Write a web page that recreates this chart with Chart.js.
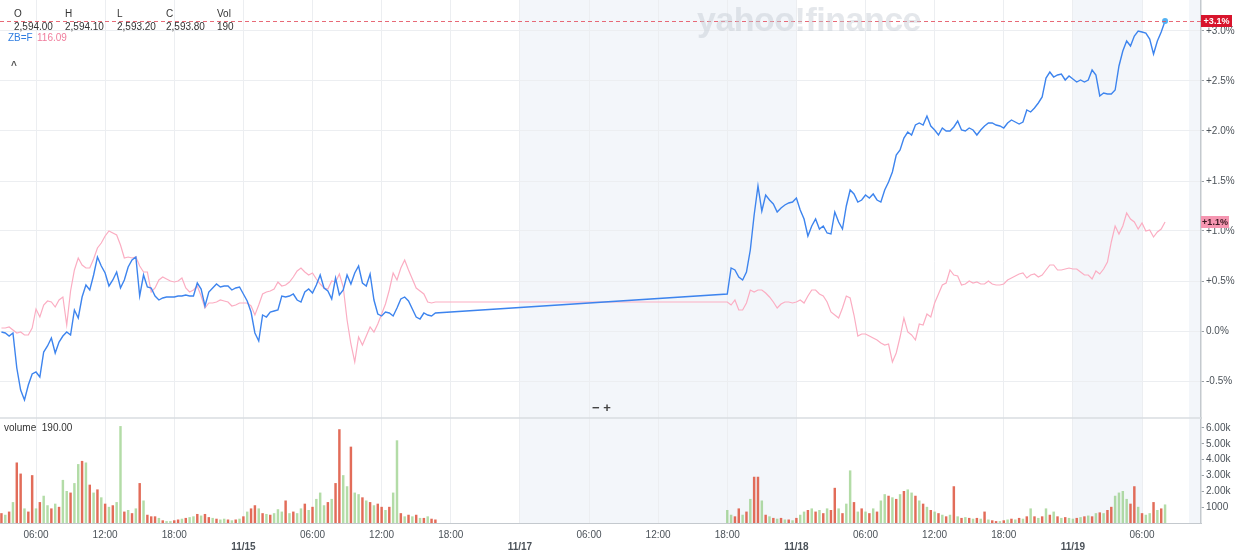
<!DOCTYPE html>
<html>
<head>
<meta charset="utf-8">
<script src="https://cdn.jsdelivr.net/npm/chart.js@4.4.0/dist/chart.umd.min.js"></script>
<style>
  html, body { margin: 0; padding: 0; background: #fff; }
  #wrap { position: relative; width: 1236px; height: 551px; font-family: "Liberation Sans", Arial, sans-serif; overflow: hidden; }
  #chart { position: absolute; left: 0; top: 0; }
  .t { position: absolute; font-size: 10px; line-height: 12px; color: #333; white-space: nowrap; }
  .wm { position: absolute; left: 697px; top: 0; font-size: 34px; line-height: 38px; font-weight: bold; color: rgba(196,202,210,0.45); letter-spacing: -0.5px; pointer-events: none; }
</style>
</head>
<body>
<div id="wrap">
  <canvas id="chart" width="1236" height="551"></canvas>
  <div class="wm">yahoo!finance</div>
  <div class="t" style="left:14px;top:8px">O</div>
  <div class="t" style="left:65px;top:8px">H</div>
  <div class="t" style="left:117px;top:8px">L</div>
  <div class="t" style="left:166px;top:8px">C</div>
  <div class="t" style="left:217px;top:8px">Vol</div>
  <div class="t" style="left:14px;top:21px">2,594.00</div>
  <div class="t" style="left:65px;top:21px">2,594.10</div>
  <div class="t" style="left:117px;top:21px">2,593.20</div>
  <div class="t" style="left:166px;top:21px">2,593.80</div>
  <div class="t" style="left:217px;top:21px">190</div>
  <div class="t" style="left:8px;top:32px;color:#2f7de1">ZB=F</div>
  <div class="t" style="left:37px;top:32px;color:#f07c9c">116.09</div>
  <div class="t" style="left:11px;top:60px;font-weight:bold;color:#555">^</div>
  <div class="t" style="left:4px;top:422px">volume&nbsp; 190.00</div>
  <div class="t" style="left:592px;top:402px;font-size:13px;font-weight:bold;color:#444">&minus; +</div>
</div>
<script>
// time axis: hours since 11/14 00:00, weekend removed (11/15 24:00 -> 11/17 00:00 = 48)
const axisStartHour = 2.875;
const axisEndHour = 107.12;
const tickHours = [6, 12, 18, 24, 30, 36, 42, 48, 54, 60, 66, 72, 78, 84, 90, 96, 102];
const tickLabels = ['06:00', '12:00', '18:00', '11/15', '06:00', '12:00', '18:00', '11/17',
  '06:00', '12:00', '18:00', '11/18', '06:00', '12:00', '18:00', '11/19', '06:00'];
const shadedBands = [[48, 72], [96, 102], [106.08, 107.12]];

const sessionStartA = 3;    // 11/14 03:00
const sessionStartB = 66;   // 11/17 18:00
const stepHours = 1 / 3;    // 20 minute samples

// ES=F, % change
const esA = [-0.01,-0.02,-0.05,-0.02,-0.37,-0.59,-0.69,-0.54,-0.43,-0.41,
  -0.46,-0.21,-0.15,-0.07,-0.22,-0.11,-0.05,-0.01,-0.04,0.21,
  0.13,0.34,0.46,0.41,0.56,0.74,0.65,0.58,0.45,0.51,
  0.59,0.43,0.51,0.64,0.71,0.74,0.35,0.56,0.44,0.43,
  0.35,0.31,0.33,0.34,0.34,0.34,0.35,0.35,0.36,0.35,
  0.35,0.48,0.42,0.25,0.39,0.43,0.47,0.44,0.45,0.45,
  0.41,0.43,0.44,0.37,0.30,0.19,-0.02,-0.10,0.16,0.14,
  0.19,0.20,0.21,0.35,0.34,0.35,0.37,0.31,0.29,0.39,
  0.42,0.38,0.46,0.56,0.43,0.40,0.32,0.53,0.36,0.41,
  0.56,0.47,0.58,0.65,0.48,0.45,0.57,0.31,0.17,0.15,
  0.19,0.18,0.15,0.23,0.32,0.34,0.30,0.22,0.14,0.12,
  0.18,0.16,0.15,0.18];
const esB = [0.37,0.63,0.61,0.54,0.51,0.59,0.81,1.16,1.45,1.20,
  1.36,1.31,1.27,1.19,1.23,1.26,1.28,1.29,1.33,1.21,
  1.12,0.95,1.05,1.12,1.02,1.05,0.98,0.97,1.19,1.09,
  1.02,1.25,1.41,1.37,1.29,1.31,1.36,1.33,1.37,1.31,
  1.29,1.41,1.49,1.59,1.76,1.81,1.93,1.99,1.96,2.06,
  2.08,2.06,2.15,2.05,2.01,1.96,2.03,2.00,2.00,2.04,
  2.10,2.01,2.00,2.03,2.01,1.96,2.01,2.05,2.08,2.08,
  2.06,2.05,2.03,2.08,2.11,2.09,2.07,2.09,2.21,2.19,
  2.23,2.28,2.34,2.53,2.59,2.54,2.56,2.57,2.51,2.55,
  2.52,2.49,2.51,2.49,2.51,2.61,2.56,2.35,2.38,2.37,
  2.37,2.41,2.65,2.80,2.90,2.85,2.95,3.00,2.99,2.98,
  2.92,2.77,2.90,2.99,3.10];

// ZB=F, % change
const zbA = [0.03,0.03,0.04,0.01,-0.02,-0.01,-0.04,-0.04,0.03,0.22,
  0.14,0.26,0.30,0.29,0.24,0.31,0.34,0.06,0.40,0.61,
  0.73,0.66,0.63,0.63,0.72,0.83,0.88,0.95,1.00,0.98,
  0.96,0.86,0.73,0.74,0.73,0.74,0.65,0.59,0.59,0.39,
  0.43,0.51,0.54,0.52,0.50,0.49,0.50,0.53,0.43,0.39,
  0.41,0.45,0.35,0.23,0.28,0.28,0.29,0.31,0.30,0.29,
  0.25,0.26,0.28,0.28,0.28,0.25,0.16,0.26,0.37,0.39,
  0.40,0.42,0.49,0.45,0.46,0.49,0.54,0.60,0.63,0.59,
  0.56,0.58,0.52,0.47,0.43,0.42,0.50,0.49,0.57,0.44,
  0.11,-0.13,-0.31,-0.06,-0.14,-0.05,0.04,-0.01,0.07,0.17,
  0.27,0.41,0.58,0.51,0.63,0.71,0.61,0.52,0.43,0.40,
  0.37,0.29,0.28,0.29];
const zbB = [0.29,0.26,0.31,0.21,0.21,0.28,0.41,0.39,0.41,0.41,
  0.38,0.34,0.29,0.23,0.27,0.29,0.29,0.28,0.29,0.31,
  0.28,0.35,0.41,0.41,0.37,0.35,0.29,0.19,0.16,0.13,
  0.23,0.35,0.33,0.16,-0.05,-0.03,-0.03,-0.05,-0.07,-0.09,
  -0.12,-0.14,-0.13,-0.31,-0.22,-0.06,0.13,-0.01,-0.04,-0.09,
  0.07,0.06,0.17,0.14,0.28,0.37,0.46,0.48,0.61,0.56,
  0.55,0.46,0.47,0.50,0.48,0.49,0.47,0.47,0.50,0.47,
  0.46,0.46,0.47,0.51,0.53,0.55,0.57,0.58,0.53,0.56,
  0.57,0.54,0.56,0.61,0.66,0.66,0.61,0.61,0.62,0.63,
  0.62,0.62,0.59,0.56,0.56,0.52,0.60,0.57,0.62,0.69,
  0.89,1.05,0.97,1.05,1.18,1.12,1.09,1.02,1.08,1.00,
  1.01,0.94,0.99,1.02,1.09];

// volume and bar colour (r = down, g = up)
const volA = [600,500,700,1300,3800,3100,900,700,3000,900,
  1300,1700,1100,900,1200,1000,2700,2000,1900,2500,
  3700,3900,3800,2400,1900,2100,1600,1200,1000,1100,
  1300,6100,700,800,600,900,2500,1400,500,400,
  400,300,150,100,100,150,200,250,300,350,
  400,550,450,550,350,300,250,200,250,200,
  150,200,250,400,700,900,1100,900,600,550,
  500,600,850,700,1400,600,700,600,900,1200,
  800,1000,1500,1900,1100,1300,1500,2500,5900,3000,
  2300,4800,1900,1800,1600,1400,1300,1100,1200,1000,
  800,1000,1900,5200,600,400,500,400,500,300,
  300,400,250,200];
const volB = [800,500,400,900,500,700,1500,2900,2900,1400,
  500,400,300,250,300,200,200,150,300,500,
  700,800,900,700,800,600,900,800,2200,900,
  600,1200,3300,1300,700,900,700,600,900,700,
  1400,1800,1700,1600,1500,1800,2000,2100,1900,1700,
  1400,1200,1000,800,700,600,500,400,500,2300,
  400,300,350,300,250,300,250,700,200,150,
  100,100,150,200,250,200,300,250,400,900,
  400,300,400,900,500,700,400,300,350,300,
  250,300,350,400,450,400,600,650,600,800,
  1000,1700,1900,2000,1500,1200,2300,1000,600,500,
  600,1300,800,900,1150];
const volColA = 'rgrgrrgrrg' + 'rggrgrggrg' + 'grgrgrgrgr' + 'ggrgrgrgrr' + 'rgrggrrgrg' +
  'grgrrgrggr' + 'grgrgrrgrg' + 'rgggrgrggr' + 'grgggrgrrg' + 'grggrgrgrr' + 'grggrgrgrg' + 'rgrr';
const volColB = 'ggrrgrgrrg' + 'rgrgrgrgrg' + 'grgrgrgrrg' + 'rggrgrgrgr' + 'ggrgrgrggr' +
  'grgrgrgrgr' + 'grgrgrgrgr' + 'rgrgrgrgrg' + 'rgrgrgrgrg' + 'grgrgrgrgr' + 'rggggrrgrg' + 'grgrg';

const priceTicks = [-0.5, 0, 0.5, 1.0, 1.5, 2.0, 2.5, 3.0];
const volumeTicks = [1000, 2000, 3000, 4000, 5000, 6000];
const volumeTickLabels = ['1000', '2.00k', '3.00k', '4.00k', '5.00k', '6.00k'];

const toPoints = (arr, start) => arr.map((v, i) => ({ x: start + i * stepHours, y: v }));
const esData = toPoints(esA, sessionStartA).concat(toPoints(esB, sessionStartB));
const zbData = toPoints(zbA, sessionStartA).concat(toPoints(zbB, sessionStartB));
const volData = toPoints(volA, sessionStartA).concat(toPoints(volB, sessionStartB));
const volColors = (volColA + volColB).split('').map(c =>
  c === 'r' ? 'rgba(221,82,60,0.85)' : 'rgba(128,196,108,0.6)');

const pct = v => (v > 0 ? '+' : '') + v.toFixed(1) + '%';
const gridColor = '#eceef1';
const axisColor = '#c4c9ce';

// no automatic label overhang padding: the plot fills the canvas edge to edge
const noPad = s => { s.paddingTop = 0; s.paddingBottom = 0; s.paddingLeft = 0; s.paddingRight = 0; };

const panels = {
  id: 'panels',
  beforeDraw(chart) {
    const { ctx, chartArea } = chart;
    const x = chart.scales.x;
    ctx.save();
    ctx.fillStyle = '#f3f6fa';
    shadedBands.forEach(([a, b]) => {
      const x0 = x.getPixelForValue(a), x1 = Math.min(x.getPixelForValue(b), chartArea.right);
      ctx.fillRect(x0, chartArea.top, x1 - x0, chartArea.bottom - chartArea.top);
    });
    ctx.restore();
  },
  afterDatasetsDraw(chart) {
    const { ctx, chartArea } = chart;
    const y = chart.scales.y;
    ctx.save();
    // panel separator
    ctx.strokeStyle = '#d9dce0';
    ctx.lineWidth = 1.5;
    ctx.beginPath();
    ctx.moveTo(chartArea.left, y.bottom);
    ctx.lineTo(chartArea.right, y.bottom);
    ctx.stroke();
    // last price dashed line
    const yLast = y.getPixelForValue(esB[esB.length - 1]);
    ctx.strokeStyle = 'rgba(228,80,95,0.85)';
    ctx.lineWidth = 1;
    ctx.setLineDash([4, 3]);
    ctx.beginPath();
    ctx.moveTo(chartArea.left, yLast + 0.5);
    ctx.lineTo(chartArea.right, yLast + 0.5);
    ctx.stroke();
    ctx.restore();
  },
  afterDraw(chart) {
    const { ctx, chartArea } = chart;
    const y = chart.scales.y;
    const tag = (value, bg, fg, w) => {
      const py = y.getPixelForValue(value);
      ctx.fillStyle = bg;
      ctx.fillRect(chartArea.right, py - 6, w, 12);
      ctx.fillStyle = fg;
      ctx.font = 'bold 9px "Liberation Sans", Arial, sans-serif';
      ctx.textAlign = 'center';
      ctx.textBaseline = 'middle';
      ctx.fillText(pct(value), chartArea.right + w / 2, py + 0.5);
    };
    ctx.save();
    tag(esB[esB.length - 1], '#d8142c', '#ffffff', 31);
    tag(zbB[zbB.length - 1], '#f596b1', '#3a1a22', 28);
    ctx.restore();
  }
};

const lastIdx = esData.length - 1;

new Chart(document.getElementById('chart'), {
  type: 'line',
  data: {
    datasets: [
      {
        label: 'ES=F', data: esData, yAxisID: 'y', order: 1,
        borderColor: '#3d84ee', borderWidth: 1.4, tension: 0,
        pointRadius: ctx => ctx.dataIndex === lastIdx ? 3 : 0,
        pointBackgroundColor: '#53b2f3', pointBorderWidth: 0
      },
      {
        label: 'ZB=F', data: zbData, yAxisID: 'y', order: 2,
        borderColor: '#fbadc2', borderWidth: 1.2, tension: 0, pointRadius: 0
      },
      {
        type: 'bar', label: 'volume', data: volData, yAxisID: 'vol', order: 3,
        backgroundColor: volColors, barThickness: 1.8, grouped: false, borderWidth: 0
      }
    ]
  },
  options: {
    responsive: false,
    animation: false,
    layout: { padding: 0, autoPadding: false },
    plugins: { legend: { display: false }, tooltip: { enabled: false } },
    scales: {
      x: {
        type: 'linear', min: axisStartHour, max: axisEndHour, offset: false,
        afterBuildTicks: s => { s.ticks = tickHours.map(v => ({ value: v })); },
        afterFit: s => { s.height = 28; noPad(s); },
        grid: { color: gridColor, drawTicks: false, offset: false },
        border: { color: axisColor, width: 1 },
        ticks: {
          autoSkip: false, maxRotation: 0, padding: 6, color: '#4b5259',
          font: ctx => ({ size: 10, weight: tickLabels[ctx.index] && tickLabels[ctx.index].includes('/') ? 'bold' : 'normal' }),
          callback: (v, i) => tickLabels[i].includes('/') ? ['', tickLabels[i]] : tickLabels[i]
        }
      },
      y: {
        type: 'linear', position: 'right', stack: 'right', stackWeight: 418,
        min: -0.87, max: 3.31,
        afterBuildTicks: s => { s.ticks = priceTicks.map(v => ({ value: v })); },
        afterFit: s => { s.width = 35; noPad(s); },
        grid: { color: gridColor, tickLength: 3, tickColor: '#9ba1a7' },
        border: { color: axisColor, width: 1.5 },
        ticks: { autoSkip: false, padding: 2, color: '#4b5259', font: { size: 10 }, callback: v => pct(v) }
      },
      vol: {
        type: 'linear', position: 'right', stack: 'right', stackWeight: 105,
        min: 0, max: 6630,
        afterBuildTicks: s => { s.ticks = volumeTicks.map(v => ({ value: v })); },
        afterFit: s => { s.width = 35; noPad(s); },
        grid: { drawOnChartArea: false, tickLength: 3, tickColor: '#9ba1a7' },
        border: { color: axisColor, width: 1.5 },
        ticks: { autoSkip: false, padding: 2, color: '#4b5259', font: { size: 10 }, callback: (v, i) => volumeTickLabels[i] }
      }
    }
  },
  plugins: [panels]
});
</script>
</body>
</html>
